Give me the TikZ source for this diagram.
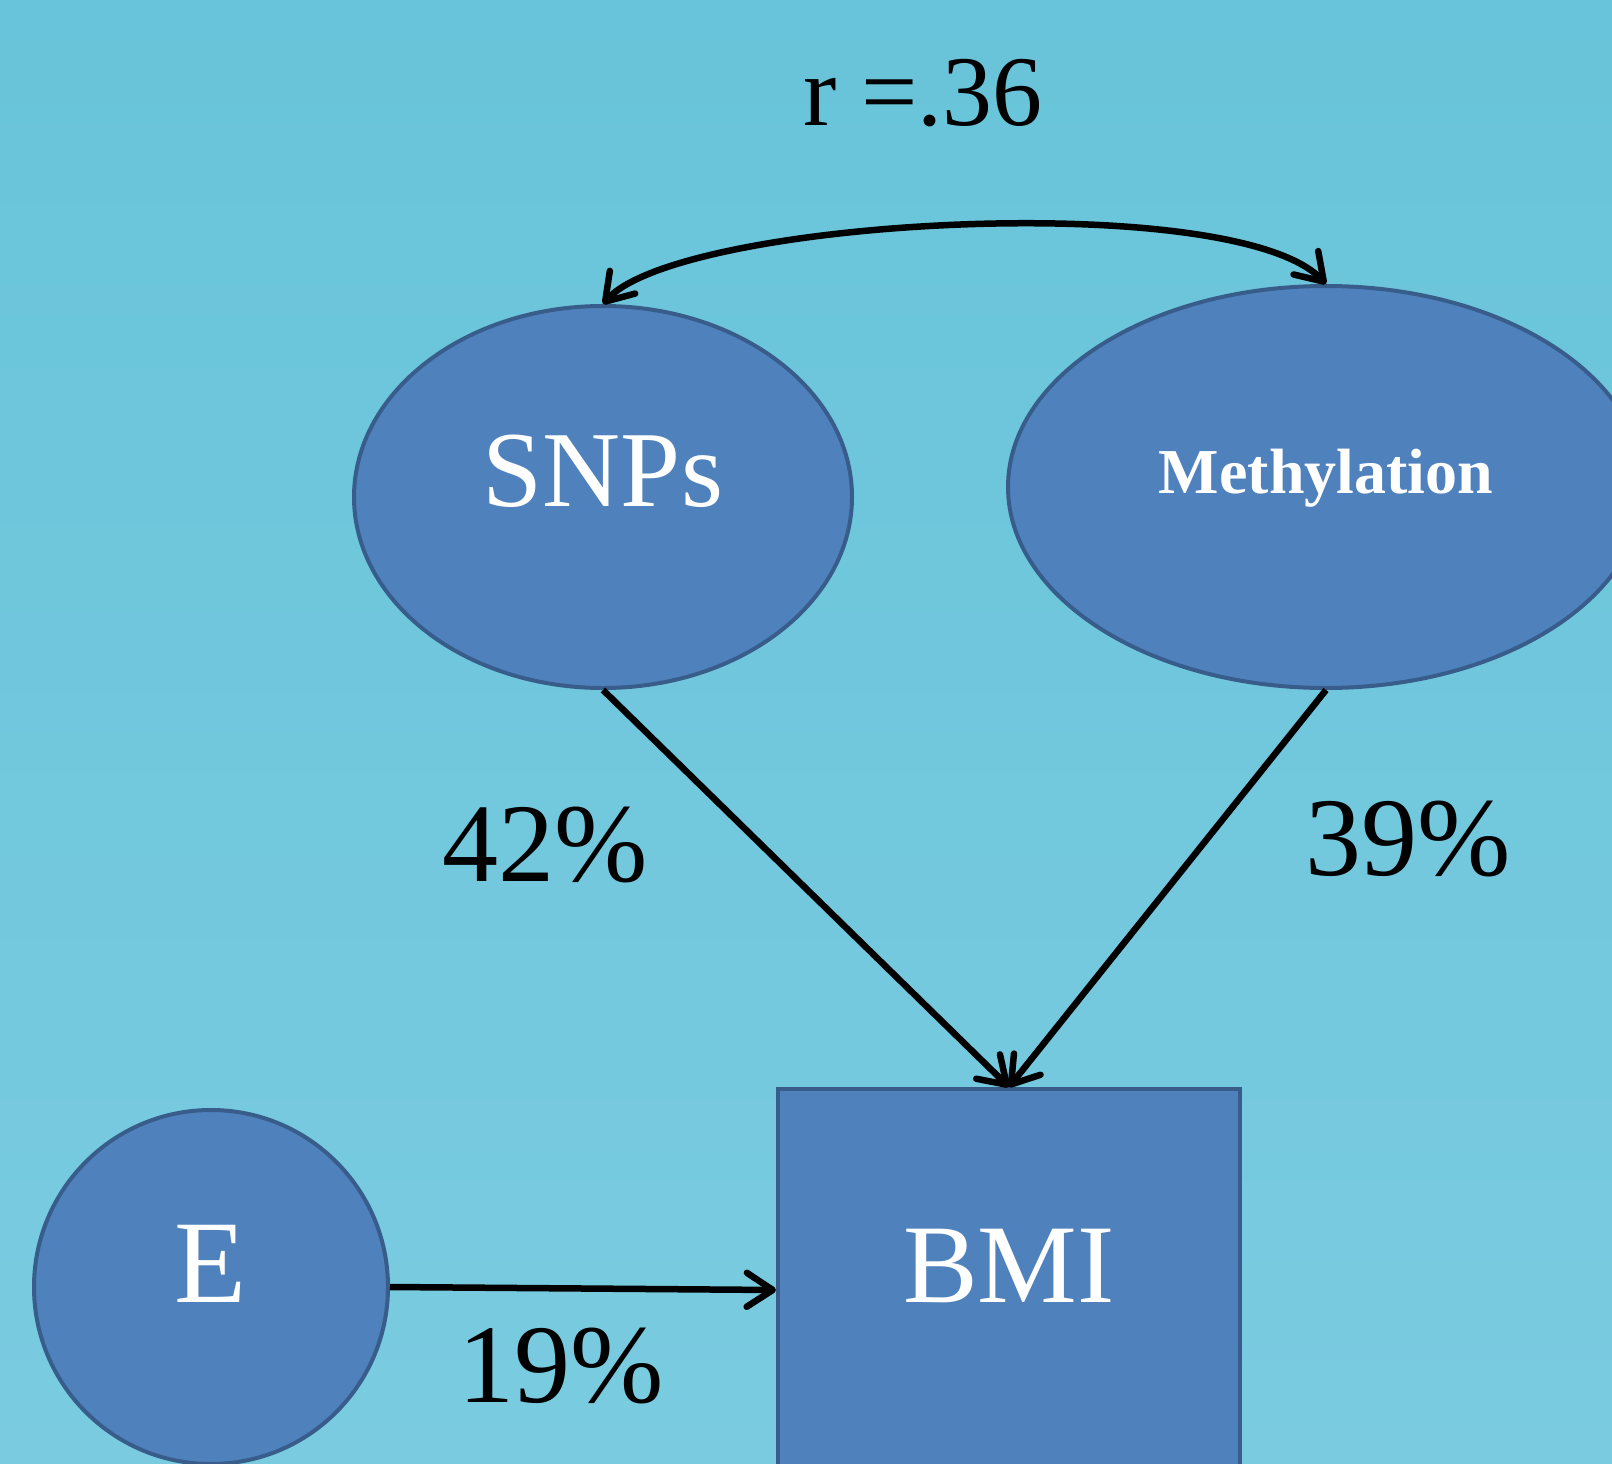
\documentclass[tikz,border=0pt]{standalone}
\usepackage{fontspec}
\setmainfont{Liberation Serif}
\usetikzlibrary{shapes.geometric}
\usetikzlibrary{arrows.meta}
\definecolor{bgtop}{RGB}{104,196,218}
\definecolor{bgbot}{RGB}{122,203,224}
\definecolor{nodefill}{RGB}{79,129,189}
\definecolor{nodeline}{RGB}{56,93,138}
\tikzset{
  latent/.style={ellipse, draw=nodeline, fill=nodefill, line width=4pt, inner sep=0pt, text=white},
  observed/.style={rectangle, draw=nodeline, fill=nodefill, line width=4pt, inner sep=0pt, text=white},
  effect/.style={line width=6.5pt, >={Straight Barb[length=26pt,width=34pt,round]}, ->},
  corr/.style={effect, <->},
  pct/.style={anchor=base, inner sep=0pt, font=\fontsize{112}{124}\selectfont},
}

\begin{document}
\begin{tikzpicture}[x=1pt,y=-1pt]
\useasboundingbox (0,0) rectangle (1612,1464);
\clip (0,0) rectangle (1612,1464);
\shade[top color=bgtop, bottom color=bgbot] (0,0) rectangle (1612,1464);

%Ellipses
\node[latent, minimum width=498pt, minimum height=382pt, text height=72pt, text depth=54pt,
  font=\fontsize{108}{120}\selectfont] (snps) at (603,497) {SNPs};
\node[latent, minimum width=636pt, minimum height=402pt, text height=42pt, text depth=30pt,
  font=\fontsize{64}{72}\selectfont\bfseries] (meth) at (1326,487) {Methylation};
%Circle
\node[latent, circle, minimum size=354pt, text height=78pt, text depth=48pt,
  font=\fontsize{118}{130}\selectfont] (env) at (211,1287) {E};
%Box
\node[observed, minimum width=462pt, minimum height=402pt, text height=74pt, text depth=50pt,
  font=\fontsize{112}{124}\selectfont] (bmi) at (1009,1290) {BMI};

%Paths
\draw[corr] (snps.north) .. controls (680,218) and (1235,188) .. (meth.north);
\draw[effect] (snps.south) -- (bmi.north);
\draw[effect] (meth.south) -- (bmi.north);
\draw[effect] (env.east) -- (bmi.west);

%Labels
\node[pct, font=\fontsize{100}{112}\selectfont] (rval) at (923,125) {r =.36};
\node[pct] (snpspct) at (545,881) {42\%};
\node[pct] (methpct) at (1408,875) {39\%};
\node[pct] (envpct) at (561,1402) {19\%};
\end{tikzpicture}
\end{document}
